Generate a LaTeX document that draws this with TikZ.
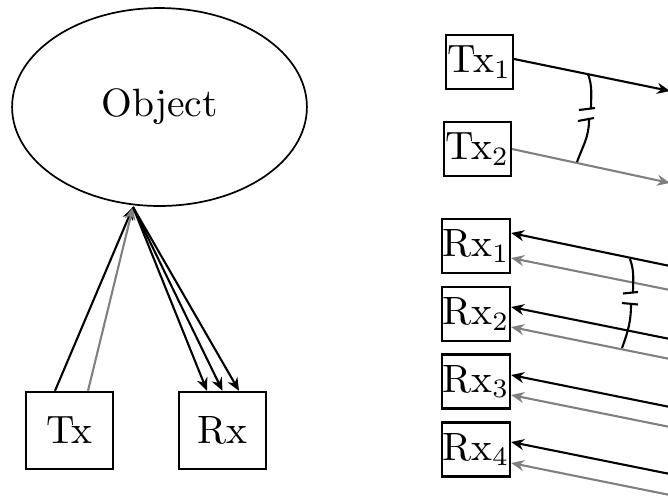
\documentclass[tikz,border=0pt]{standalone}
\usetikzlibrary{shapes.geometric,arrows.meta,calc}
\begin{document}
\begin{tikzpicture}[x=0.2632pt,y=-0.2632pt,
  font=\fontsize{10.4pt}{12pt}\selectfont,
  box/.style={draw,line width=0.6pt,inner sep=0pt},
  bigbox/.style={box,minimum width=22.9pt,minimum height=20.3pt},
  smallbox/.style={box,minimum width=17.6pt,minimum height=14.2pt},
  arr/.style={line width=0.55pt,-{Stealth[length=3.4pt,width=2.9pt,inset=1.1pt]}},
  garr/.style={arr,gray},
  brk/.style={line width=0.55pt}]
\clip (0,0) rectangle (668,495);
% left part
\node[ellipse,draw,line width=0.45pt,inner sep=0pt,minimum width=77.6pt,minimum height=52.1pt] (obj) at (159.5,107) {Object};
\node[bigbox] (Tx) at (69.5,430.5) {Tx};
\node[bigbox] (Rx) at (222.5,430.5) {Rx};
\coordinate (tip) at (133,207);
\draw[arr] ($(Tx.north)+(-14.5,0)$) -- (tip);
\draw[garr] ($(Tx.north)+(18.5,0)$) -- (tip);
\draw[arr] (tip) -- ($(Rx.north)+(-15.5,0)$);
\draw[arr] (tip) -- ($(Rx.north)+(0,0)$);
\draw[arr] (tip) -- ($(Rx.north)+(16.5,0)$);
% right part
\node[smallbox] (Tx1) at (479.5,62) {Tx$_1$};
\node[smallbox] (Tx2) at (477.5,149) {Tx$_2$};
\node[smallbox,minimum width=17.9pt] (Rx1) at (476,246) {Rx$_1$};
\node[smallbox,minimum width=17.9pt] (Rx2) at (476,314) {Rx$_2$};
\node[smallbox,minimum width=17.9pt] (Rx3) at (476,381.5) {Rx$_3$};
\node[smallbox,minimum width=17.9pt] (Rx4) at (476,449.5) {Rx$_4$};
\coordinate (t1e) at (670,91);
\coordinate (t2e) at (670,183);
\coordinate (r1b) at (670,266);
\coordinate (r1g) at (670,290);
\coordinate (r2b) at (670,339);
\coordinate (r2g) at (670,359);
\coordinate (r3b) at (670,407);
\coordinate (r3g) at (670,427);
\coordinate (r4b) at (670,474);
\coordinate (r4g) at (670,495);
\draw[arr] ($(Tx1.east)+(0,-3)$) -- (t1e);
\draw[garr] (Tx2.east) -- (t2e);
\draw[arr] (r1b) -- ($(Rx1.east)+(0,-13)$);
\draw[garr] (r1g) -- ($(Rx1.east)+(0,12)$);
\draw[arr] (r2b) -- ($(Rx2.east)+(0,-7)$);
\draw[garr] (r2g) -- ($(Rx2.east)+(0,13)$);
\draw[arr] (r3b) -- ($(Rx3.east)+(0,-6.5)$);
\draw[garr] (r3g) -- ($(Rx3.east)+(0,13.5)$);
\draw[arr] (r4b) -- ($(Rx4.east)+(0,-7.5)$);
\draw[garr] (r4g) -- ($(Rx4.east)+(0,13.5)$);
% break marks
\draw[brk] (588,74) to[out=-70,in=90] (591,109);
\draw[brk] (579,110) -- (595,108);
\draw[brk] (578,121) -- (594,118);
\draw[brk] (589,120) to[out=-90,in=70] (577,162);
\draw[brk] (630,259) to[out=-70,in=90] (633,293);
\draw[brk] (623,293.5) -- (638,292);
\draw[brk] (622,303) -- (638,304.5);
\draw[brk] (631,304) to[out=-90,in=70] (622,348);
\end{tikzpicture}
\end{document}
